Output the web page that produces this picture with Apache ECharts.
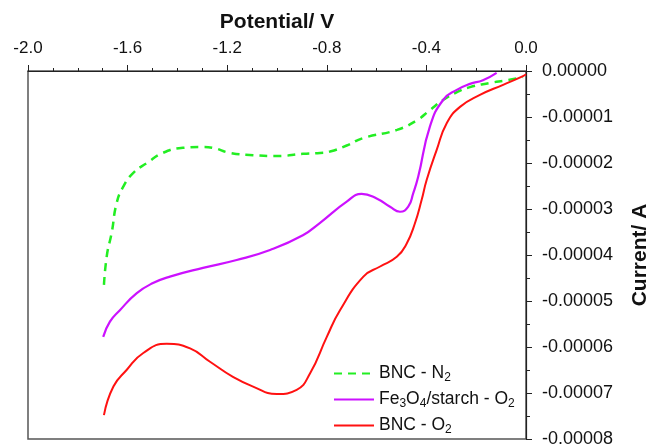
<!DOCTYPE html>
<html>
<head>
<meta charset="utf-8">
<script src="https://cdn.jsdelivr.net/npm/echarts@6/dist/echarts.min.js"></script>
<style>
  html, body { margin: 0; padding: 0; background: #fff; }
  #chart { width: 649px; height: 448px; }
</style>
</head>
<body>
<div id="chart"></div>
<script>
// potentials in V, currents in units of 1e-5 A
const SCALE = 1e-5;

const n2Potential = [-1.695, -1.683, -1.664, -1.644, -1.618, -1.578, -1.522, -1.458, -1.378, -1.297, -1.257, -1.189, -1.096, -1.0, -0.896, -0.827, -0.787, -0.72, -0.655, -0.518, -0.438, -0.386, -0.333, -0.277, -0.225, -0.145, -0.076, -0.012];
const n2Current = [-4.65, -4.0, -3.52, -2.87, -2.52, -2.22, -2.0, -1.78, -1.67, -1.65, -1.67, -1.78, -1.83, -1.85, -1.8, -1.78, -1.75, -1.62, -1.46, -1.28, -1.07, -0.85, -0.63, -0.46, -0.35, -0.26, -0.2, -0.13];

const fePotential = [-1.698, -1.671, -1.631, -1.563, -1.498, -1.43, -1.297, -1.162, -1.028, -0.896, -0.827, -0.72, -0.66, -0.6, -0.546, -0.506, -0.473, -0.453, -0.433, -0.386, -0.333, -0.278, -0.225, -0.173, -0.118];
const feCurrent = [-5.78, -5.45, -5.2, -4.83, -4.61, -4.47, -4.28, -4.11, -3.89, -3.57, -3.3, -2.84, -2.67, -2.77, -2.95, -3.06, -2.95, -2.66, -2.3, -1.21, -0.63, -0.41, -0.28, -0.2, -0.04];

const o2Potential = [-1.695, -1.657, -1.604, -1.537, -1.443, -1.349, -1.269, -1.177, -1.096, -1.001, -0.921, -0.867, -0.8, -0.747, -0.653, -0.586, -0.519, -0.479, -0.446, -0.419, -0.399, -0.359, -0.318, -0.265, -0.185, -0.092, -0.012, 0.0];
const o2Current = [-7.48, -6.86, -6.5, -6.13, -5.93, -6.03, -6.32, -6.65, -6.86, -7.02, -6.93, -6.57, -5.78, -5.2, -4.47, -4.25, -4.04, -3.75, -3.31, -2.8, -2.37, -1.72, -1.13, -0.78, -0.52, -0.3, -0.11, -0.07];

const seriesNames = ['BNC - N{sub|2}', 'Fe{sub|3}O{sub|4}/starch - O{sub|2}', 'BNC - O{sub|2}'];
const seriesKeys = ['n2', 'fe', 'o2'];

const pairs = (xs, ys) => xs.map((x, i) => [x, ys[i] * SCALE]);

const chart = echarts.init(document.getElementById('chart'));
const font = 'Liberation Sans, Arial, sans-serif';

chart.setOption({
  animation: false,
  textStyle: { fontFamily: font },
  grid: {
    left: 28, right: 123, top: 71, bottom: 9,
    outerBoundsMode: 'none', containLabel: false,
    show: true, borderColor: '#555', borderWidth: 1.5
  },
  legend: {
    orient: 'vertical',
    left: 328, top: 358,
    itemWidth: 40, itemHeight: 14, itemGap: 5,
    data: seriesKeys,
    itemStyle: { opacity: 0 },
    formatter: name => seriesNames[seriesKeys.indexOf(name)],
    textStyle: {
      fontSize: 17.5, color: '#111', fontFamily: font, lineHeight: 21,
      rich: { sub: { fontSize: 12, padding: [8, 0, 0, 0], fontFamily: font, color: '#111' } }
    }
  },
  xAxis: {
    type: 'value', position: 'top',
    min: -2, max: 0, interval: 0.4,
    name: 'Potential/ V', nameLocation: 'middle', nameGap: 38,
    nameTextStyle: { fontSize: 21, fontWeight: 'bold', color: '#111', fontFamily: font },
    axisLine: { onZero: false, lineStyle: { color: '#222', width: 1.2 } },
    axisTick: { length: 6, lineStyle: { color: '#222' } },
    minorTick: { show: true, splitNumber: 4, length: 3, lineStyle: { color: '#222' } },
    splitLine: { show: false },
    axisLabel: { fontSize: 17, color: '#111', margin: 14, formatter: v => v.toFixed(1) }
  },
  yAxis: {
    type: 'value', position: 'right',
    min: -8 * SCALE, max: 0, interval: SCALE,
    name: 'Current/ A', nameLocation: 'middle', nameGap: 104, nameRotate: 90,
    nameTextStyle: { fontSize: 21, fontWeight: 'bold', color: '#111', fontFamily: font },
    axisLine: { show: true, onZero: false, lineStyle: { color: '#222', width: 1.2 } },
    axisTick: { show: true, length: 6, lineStyle: { color: '#222' } },
    minorTick: { show: true, splitNumber: 2, length: 4, lineStyle: { color: '#222' } },
    splitLine: { show: false },
    axisLabel: { fontSize: 18, color: '#111', margin: 16, formatter: v => v.toFixed(5) }
  },
  series: [
    {
      name: 'n2', type: 'line', smooth: 0.5, symbol: 'none',
      data: pairs(n2Potential, n2Current),
      lineStyle: { color: '#22ee22', width: 2.5, type: [8, 6] },
      itemStyle: { color: '#22ee22' }
    },
    {
      name: 'fe', type: 'line', smooth: 0.5, symbol: 'none',
      data: pairs(fePotential, feCurrent),
      lineStyle: { color: '#cc11ff', width: 2.2 },
      itemStyle: { color: '#cc11ff' }
    },
    {
      name: 'o2', type: 'line', smooth: 0.5, symbol: 'none',
      data: pairs(o2Potential, o2Current),
      lineStyle: { color: '#ff1111', width: 2 },
      itemStyle: { color: '#ff1111' }
    }
  ]
});
</script>
</body>
</html>
